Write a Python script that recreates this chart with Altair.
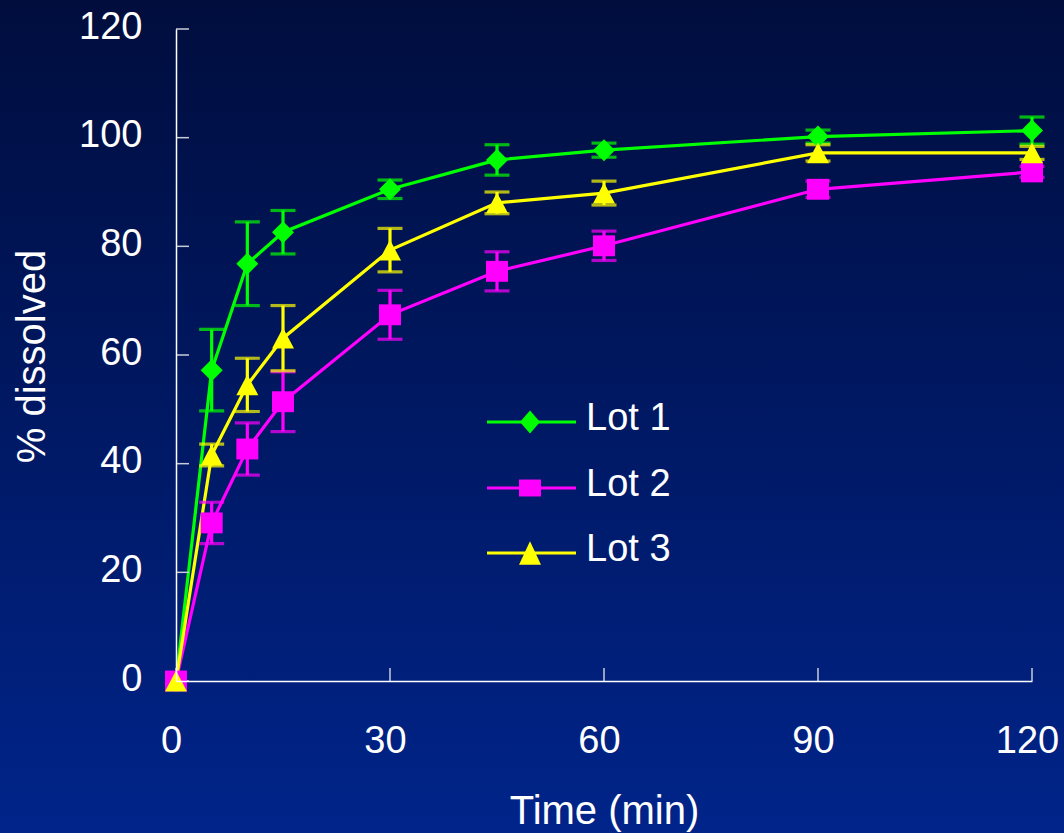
import altair as alt
import pandas as pd

# ---- data ----
time = [0, 5, 10, 15, 30, 45, 60, 90, 120]
lots = ["Lot 1", "Lot 2", "Lot 3"]
lot1 = [0, 57.2, 76.8, 82.6, 90.5, 95.9, 97.7, 100.2, 101.3]
lot1_sd = [0, 7.5, 7.7, 4.0, 1.7, 2.8, 1.3, 1.2, 2.5]
lot2 = [0, 29.1, 42.7, 51.4, 67.4, 75.4, 80.1, 90.5, 93.7]
lot2_sd = [0, 3.8, 4.8, 5.5, 4.5, 3.6, 2.7, 1.5, 1.0]
lot3 = [0, 41.6, 54.5, 63.1, 79.3, 88.0, 89.8, 97.2, 97.2]
lot3_sd = [0, 2.0, 4.9, 6.0, 4.0, 2.0, 2.2, 1.5, 1.2]
y_ticks = [0, 20, 40, 60, 80, 100, 120]
x_ticks = [0, 30, 60, 90, 120]

# ---- styles / layout ----
colors = ["#00FF00", "#FF00FF", "#FFFF00"]
FONT = "Liberation Sans"
W, H = 856, 652
PAD = {"left": 176, "top": 29, "right": 32, "bottom": 152}
# legend placement (pixels inside the plot area)
LEG_X0, LEG_X1, LEG_XM, LEG_XT = 311, 400, 354, 410
LEG_Y = [393, 459, 524]

rows = []
for lot, vals, sds in zip(lots, [lot1, lot2, lot3], [lot1_sd, lot2_sd, lot3_sd]):
    for t, v, s in zip(time, vals, sds):
        rows.append({"lot": lot, "time": t, "value": v, "sd": s, "lo": v - s, "hi": v + s})
df = pd.DataFrame(rows)
df_err = df[df["sd"] > 0]

xs = alt.Scale(domain=[0, 120], nice=False, zero=False)
ys = alt.Scale(domain=[0, 120], nice=False)
col_scale = alt.Scale(domain=lots, range=colors)

point_paths = [
    "M0,-1L1,0L0,1L-1,0Z",
    "M-1,-0.95H1V0.95H-1Z",
    "M0,-0.95L1,0.95H-1Z",
]
legend_marker_paths = [
    "M0,-1.05L0.91,0L0,1.05L-0.91,0Z",
    "M-1,-0.77H1V0.77H-1Z",
    "M0,-1.06L1,1.06H-1Z",
]

x_axis = alt.Axis(
    title="Time (min)", values=x_ticks, ticks=False, grid=False, zindex=1,
    domainColor="white", domainWidth=1.5, labelColor="white", labelFont=FONT,
    labelFontSize=38, labelPadding=41, labelOffset=-5, labelFlush=False,
    labelOverlap=False, titleColor="white", titleFont=FONT, titleFontSize=40,
    titleFontWeight="normal", titleY=142, titleX=W / 2, titleBaseline="alphabetic",
)
y_axis = alt.Axis(
    title="% dissolved", values=y_ticks, ticks=False, grid=False, zindex=1,
    domainColor="white", domainWidth=1.5, labelColor="white", labelFont=FONT,
    labelFontSize=38, labelPadding=34, labelOffset=-2, labelOverlap=False,
    titleColor="white", titleFont=FONT, titleFontSize=40, titleFontWeight="normal",
    titleX=-132, titleY=H / 2 + 1, titleBaseline="alphabetic", titleAlign="center",
)


def X(field):
    return alt.X(field, scale=xs, axis=x_axis)


def Y(field):
    return alt.Y(field, scale=ys, axis=y_axis)


bg = alt.Chart(pd.DataFrame({"a": [0]})).mark_rect(
    clip=False,
    fill=alt.Gradient(
        gradient="linear",
        stops=[alt.GradientStop(color="#000D3D", offset=0),
               alt.GradientStop(color="#00248A", offset=1)],
        x1=0, x2=0, y1=0, y2=1,
    ),
).encode(
    x=alt.value(-PAD["left"]), x2=alt.value(W + PAD["right"]),
    y=alt.value(-PAD["top"]), y2=alt.value(H + PAD["bottom"]),
)

lines = alt.Chart(df).mark_line(strokeWidth=3.2).encode(
    x=X("time:Q"), y=Y("value:Q"),
    stroke=alt.Stroke("lot:N", scale=col_scale, legend=None),
)

xtick_layer = alt.Chart(pd.DataFrame({"time": x_ticks})).mark_rule(
    color="#C8CCD8", strokeWidth=1.5
).encode(x=X("time:Q"), y=alt.value(H), y2=alt.value(H - 13))

ytick_layer = alt.Chart(pd.DataFrame({"value": y_ticks})).mark_rule(
    color="#C8CCD8", strokeWidth=1.5
).encode(y=Y("value:Q"), x=alt.value(0), x2=alt.value(13))

err_rules = alt.Chart(df_err).mark_rule(strokeWidth=3.2).encode(
    x=X("time:Q"), y=Y("lo:Q"), y2="hi:Q",
    stroke=alt.Stroke("lot:N", scale=col_scale, legend=None),
)
err_caps = alt.Chart(df_err).transform_fold(
    ["lo", "hi"], as_=["end", "yv"]
).mark_tick(orient="horizontal", size=25, thickness=3.2).encode(
    x=X("time:Q"), y=Y("yv:Q"),
    color=alt.Color("lot:N", scale=col_scale, legend=None),
)

point_layers = []
for lot, shp, c in zip(lots, point_paths, colors):
    point_layers.append(
        alt.Chart(df).transform_filter(alt.datum.lot == lot).mark_point(
            filled=True, size=484, opacity=1, strokeWidth=0, shape=shp, color=c
        ).encode(x=X("time:Q"), y=Y("value:Q"))
    )

legend_layers = []
for lot, shp, c, yc in zip(lots, legend_marker_paths, colors, LEG_Y):
    one = alt.Chart(pd.DataFrame({"lot": [lot]}))
    legend_layers.append(one.mark_rule(color=c, strokeWidth=3).encode(
        x=alt.value(LEG_X0), x2=alt.value(LEG_X1), y=alt.value(yc)))
    legend_layers.append(one.mark_point(
        filled=True, size=484, opacity=1, strokeWidth=0, shape=shp, color=c
    ).encode(x=alt.value(LEG_XM), y=alt.value(yc)))
    legend_layers.append(one.mark_text(
        align="left", baseline="middle", font=FONT, fontSize=38, color="white"
    ).encode(x=alt.value(LEG_XT), y=alt.value(yc - 3), text="lot:N"))

chart = alt.layer(
    bg, lines, xtick_layer, ytick_layer, err_rules, err_caps, *point_layers, *legend_layers
).properties(
    width=W, height=H, padding=PAD, autosize=alt.AutoSizeParams(type="none"),
).configure_view(stroke=None).configure(background="#001560", font=FONT)

chart.save("out.html", embed_options={"renderer": "svg", "actions": False})
